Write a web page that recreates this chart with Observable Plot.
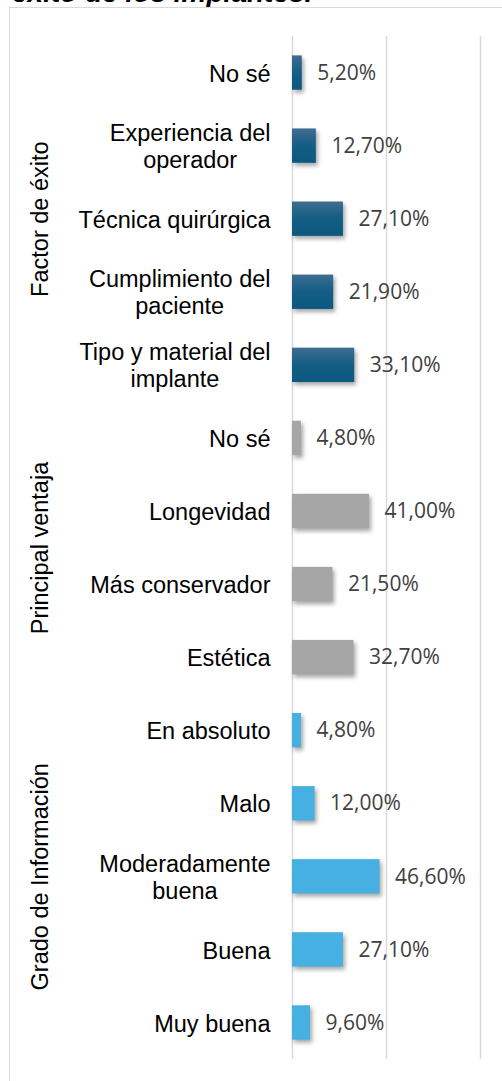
<!DOCTYPE html>
<html>
<head>
<meta charset="utf-8">
<script src="https://cdn.jsdelivr.net/npm/d3@7"></script>
<script src="https://cdn.jsdelivr.net/npm/@observablehq/plot@0.6"></script>
<style>
  html, body { margin: 0; padding: 0; background: #fff; width: 502px; height: 1081px; overflow: hidden; }
  #title { position: absolute; left: 12px; top: -21px; font: italic bold 28px "Liberation Sans", Arial, sans-serif; line-height: 1; color: #000; white-space: nowrap; }
  #frame { position: absolute; left: 9px; top: 7px; width: 1000px; height: 2000px; border-left: 1.5px solid #d9d9d9; border-top: 1.5px solid #d9d9d9; }
  #chart { position: absolute; left: 0; top: 0; }
  #chart g[aria-label="rect"] rect { filter: drop-shadow(2px 3px 2px rgba(0,0,0,0.35)); }
</style>
</head>
<body>
<div id="title">éxito de los implantes.</div>
<div id="frame"></div>
<div id="chart"></div>
<script>
// ---- data ----
const groups = ["Factor de éxito", "Principal ventaja", "Grado de Información"];
const groupSizes = [5, 4, 5];
const categories = [
  "No sé", "Experiencia del\noperador", "Técnica quirúrgica", "Cumplimiento del\npaciente", "Tipo y material del\nimplante",
  "No sé", "Longevidad", "Más conservador", "Estética",
  "En absoluto", "Malo", "Moderadamente\nbuena", "Buena", "Muy buena"
];
const values = [5.2, 12.7, 27.1, 21.9, 33.1, 4.8, 41.0, 21.5, 32.7, 4.8, 12.0, 46.6, 27.1, 9.6];
const gridTicks = [0, 50, 100];

// ---- styles ----
const groupFills = ["url(#gradFactor)", "#a6a6a6", "#45b0e1"];
const labelFont = "Liberation Sans";
const labelSize = 23.5;

// ---- derived table ----
const groupOf = [];
groups.forEach((g, gi) => { for (let k = 0; k < groupSizes[gi]; k++) groupOf.push(gi); });
const rows = categories.map((c, i) => ({ i, label: c, value: values[i], group: groupOf[i] }));
const starts = groupSizes.map((s, gi) => d3.sum(groupSizes.slice(0, gi)));
const boundaries = [...starts.map(s => s - 0.5), d3.sum(groupSizes) - 0.5];
const groupRows = groups.map((g, gi) => ({ name: g, center: starts[gi] + (groupSizes[gi] - 1) / 2 }));
const fmt = v => v.toFixed(2).replace(".", ",") + "%";

const canvas = document.createElement("canvas");
const ctx = canvas.getContext("2d");
ctx.font = `${labelSize}px "${labelFont}"`;
const textWidth = s => d3.max(s.split("\n"), line => ctx.measureText(line).width);

const half = 0.235;

const plot = Plot.plot({
  width: 502,
  height: 1081,
  marginLeft: 23,
  marginRight: 22,
  marginTop: 36,
  marginBottom: 22,
  x: { domain: [0, 100], range: [292, 480], axis: null },
  y: { domain: [-0.5, d3.sum(groupSizes) - 0.5], range: [36, 1059], axis: null },
  style: { background: "transparent", fontFamily: labelFont, overflow: "visible" },
  marks: [
    Plot.ruleX(gridTicks, { stroke: "#d9d9d9", strokeWidth: 1.5 }),
    Plot.ruleY(boundaries, { x2: 0, stroke: "#d9d9d9", strokeWidth: 1.5 }),
    ...groups.map((g, gi) => Plot.rectX(rows.filter(r => r.group === gi), {
      x1: 0, x2: "value", y1: d => d.i - half, y2: d => d.i + half, fill: groupFills[gi]
    })),
    Plot.text(rows, {
      x: "value", y: "i", text: d => fmt(d.value), textAnchor: "start", lineAnchor: "middle",
      dx: 15, fontSize: 21, fontFamily: "Open Sans", fill: "#404040"
    }),
    ...rows.map(r => Plot.text([r], {
      x: 0, y: "i", text: "label", textAnchor: "middle", lineAnchor: "middle", lineHeight: 1.15,
      dx: -(22 + textWidth(r.label) / 2), fontSize: labelSize, fontFamily: labelFont, fill: "#000"
    })),
    Plot.text(groupRows, {
      y: "center", text: "name", frameAnchor: "left", textAnchor: "middle", lineAnchor: "middle",
      rotate: -90, dx: 17, fontSize: labelSize, fontFamily: labelFont, fill: "#000"
    })
  ]
});

const svg = d3.select(plot);
const defs = svg.insert("defs", ":first-child");
const grad = defs.append("linearGradient").attr("id", "gradFactor").attr("x1", 0).attr("y1", 0).attr("x2", 0).attr("y2", 1);
grad.append("stop").attr("offset", "0%").attr("stop-color", "#3f6d90");
grad.append("stop").attr("offset", "50%").attr("stop-color", "#145d84");
grad.append("stop").attr("offset", "100%").attr("stop-color", "#0b5880");

document.getElementById("chart").appendChild(plot);
</script>
</body>
</html>
